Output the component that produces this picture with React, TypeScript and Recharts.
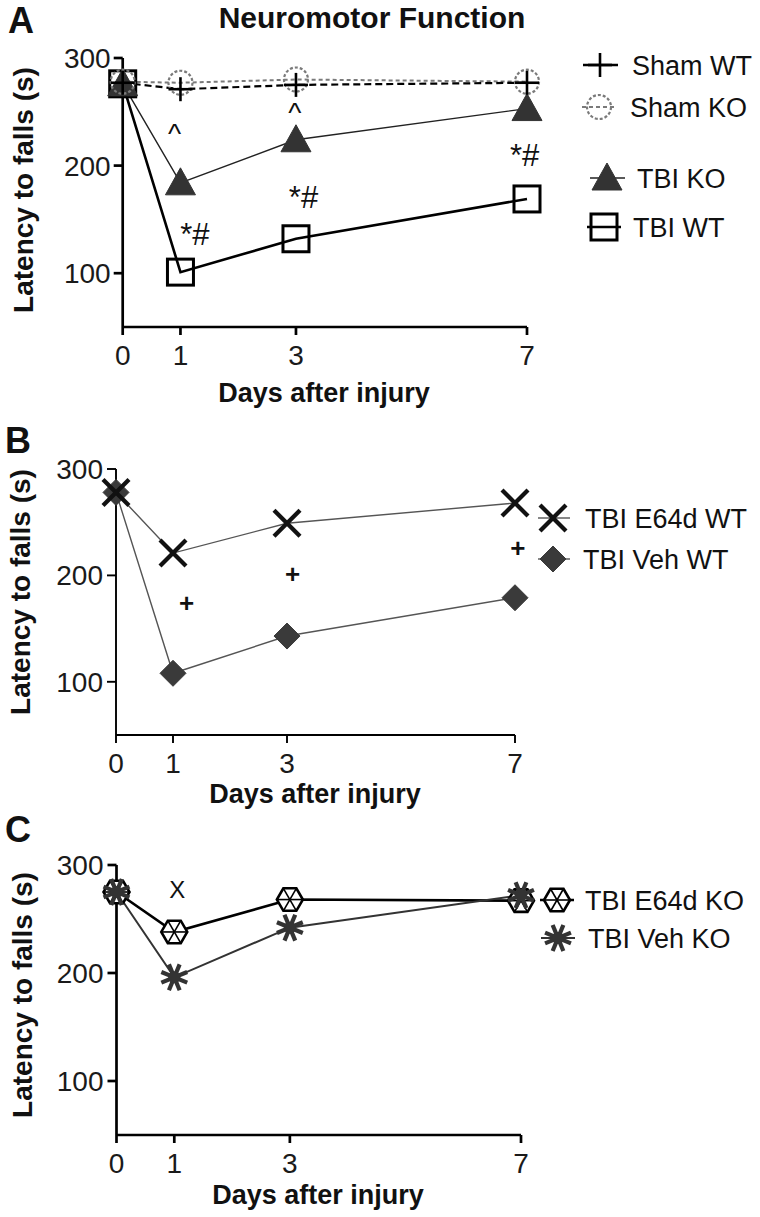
import React from 'react';
import { ComposedChart, Line, XAxis, YAxis, ReferenceDot } from 'recharts';

const FONT = '"Liberation Sans", Arial, Helvetica, sans-serif';

// shared axes
const days = [0, 1, 3, 7];
const dayTicks = [0, 1, 3, 7];
const latencyTicks = [100, 200, 300];
const latencyDomain = [50, 300];

// Panel A
const shamWT = [277, 271, 275, 277];
const shamKO = [278, 277, 280, 278];
const tbiKO = [276, 184, 224, 253];
const tbiWT = [276, 101, 132, 169];
const annotA = [
  { x: 0.9, y: 235, t: '^' },
  { x: 2.98, y: 255, t: '^' },
  { x: 1.25, y: 137, t: '*#' },
  { x: 3.13, y: 171, t: '*#' },
  { x: 6.96, y: 210, t: '*#' },
];

// Panel B
const e64dWT = [278, 221, 249, 268];
const vehWT = [278, 108, 143, 179];
const annotB = [
  { x: 1.24, y: 174, t: '+' },
  { x: 3.1, y: 202, t: '+' },
  { x: 7.05, y: 226, t: '+' },
];

// Panel C
const e64dKO = [275, 238, 268, 267];
const vehKO = [275, 196, 242, 272];
const annotC = [{ x: 1.05, y: 277, t: 'X' }];

const dataA = days.map((d, i) => ({ day: d, shamWT: shamWT[i], shamKO: shamKO[i], tbiKO: tbiKO[i], tbiWT: tbiWT[i] }));
const dataB = days.map((d, i) => ({ day: d, e64dWT: e64dWT[i], vehWT: vehWT[i] }));
const dataC = days.map((d, i) => ({ day: d, e64dKO: e64dKO[i], vehKO: vehKO[i] }));

// ---------- marker shapes ----------
const PlusM = ({ cx, cy, s = 12 }: any) => (
  <g stroke="#000" strokeWidth={2.6}>
    <line x1={cx - s} y1={cy} x2={cx + s} y2={cy} />
    <line x1={cx} y1={cy - s} x2={cx} y2={cy + s} />
  </g>
);
const CircleM = ({ cx, cy }: any) => (
  <circle cx={cx} cy={cy} r={12} fill="none" stroke="#7a7a7a" strokeWidth={2.2} strokeDasharray="3 2" />
);
const TriM = ({ cx, cy }: any) => (
  <polygon points={`${cx},${cy - 15} ${cx - 15},${cy + 12} ${cx + 15},${cy + 12}`} fill="#333" stroke="#333" strokeWidth={1} />
);
const SquareM = ({ cx, cy }: any) => (
  <rect x={cx - 13} y={cy - 13} width={26} height={26} fill="none" stroke="#000" strokeWidth={3} />
);
const XM = ({ cx, cy }: any) => (
  <g stroke="#111" strokeWidth={4.2}>
    <line x1={cx - 13} y1={cy - 13} x2={cx + 13} y2={cy + 13} />
    <line x1={cx - 13} y1={cy + 13} x2={cx + 13} y2={cy - 13} />
  </g>
);
const DiamondM = ({ cx, cy }: any) => (
  <polygon points={`${cx},${cy - 13} ${cx + 13},${cy} ${cx},${cy + 13} ${cx - 13},${cy}`} fill="#3a3a3a" stroke="#3a3a3a" strokeWidth={1} />
);
const HexM = ({ cx, cy }: any) => {
  const r = 13;
  const pts = [0, 1, 2, 3, 4, 5].map((i) => [cx + r * Math.cos((i * Math.PI) / 3), cy + r * Math.sin((i * Math.PI) / 3)]);
  return (
    <g>
      <polygon points={pts.map((p) => p.join(',')).join(' ')} fill="#fff" stroke="#000" strokeWidth={2.6} />
      {pts.map((p, i) => (
        <line key={i} x1={cx} y1={cy} x2={p[0]} y2={p[1]} stroke="#000" strokeWidth={1.6} />
      ))}
    </g>
  );
};
const StarM = ({ cx, cy }: any) => {
  const r = 14;
  return (
    <g stroke="#333" strokeWidth={4.2} strokeLinecap="butt">
      {[0, 1, 2, 3].map((i) => {
        const a = (i * Math.PI) / 4 + Math.PI / 8;
        return <line key={i} x1={cx - r * Math.cos(a)} y1={cy - r * Math.sin(a)} x2={cx + r * Math.cos(a)} y2={cy + r * Math.sin(a)} />;
      })}
      <circle cx={cx} cy={cy} r={6} fill="#333" stroke="none" />
    </g>
  );
};

const dotOf = (Comp: any, name: string) => (props: any) => {
  const { cx, cy, index } = props;
  if (cx == null || cy == null) return <g key={`${name}-${index}`} />;
  return <Comp key={`${name}-${index}`} cx={cx} cy={cy} />;
};

const annShape = (t: string, size: number, weight: string) => (props: any) => {
  const { cx, cy } = props;
  const dy = t === '^' ? '0.55em' : '0.36em';
  return (
    <text x={cx} y={cy} dy={dy} textAnchor="middle" fontFamily={FONT} fontSize={size} fontWeight={weight} fill="#111">
      {t}
    </text>
  );
};

const tickStyle = { fill: '#1a1a1a', fontSize: 28, fontFamily: FONT };

const axes = (sw: number, yMargin: number) => [
  <XAxis
    key="x"
    type="number"
    dataKey="day"
    domain={[0, 7]}
    ticks={dayTicks}
    height={30}
    axisLine={{ stroke: '#000', strokeWidth: sw }}
    tickLine={{ stroke: '#000', strokeWidth: sw }}
    tickSize={8}
    tickMargin={10}
    tick={tickStyle}
  />,
  <YAxis
    key="y"
    type="number"
    domain={latencyDomain}
    ticks={latencyTicks}
    width={60}
    axisLine={{ stroke: '#000', strokeWidth: sw }}
    tickLine={{ stroke: '#000', strokeWidth: sw }}
    tickSize={9}
    tickMargin={yMargin}
    tick={tickStyle}
  />,
];

const ChartA = () => (
  <ComposedChart width={760} height={420} data={dataA} margin={{ top: 58, right: 233, bottom: 63, left: 62.7 }}>
    {axes(2.7, 3)}
    <Line dataKey="tbiWT" stroke="#000" strokeWidth={2.6} isAnimationActive={false} dot={dotOf(SquareM, 'tw')} activeDot={false} />
    <Line dataKey="tbiKO" stroke="#222" strokeWidth={1.4} isAnimationActive={false} dot={dotOf(TriM, 'tk')} activeDot={false} />
    <Line dataKey="shamKO" stroke="#7a7a7a" strokeWidth={2} strokeDasharray="4 3" isAnimationActive={false} dot={dotOf(CircleM, 'sk')} activeDot={false} />
    <Line dataKey="shamWT" stroke="#000" strokeWidth={2.2} strokeDasharray="7 4" isAnimationActive={false} dot={dotOf(PlusM, 'sw')} activeDot={false} />
    {annotA.map((a, i) => (
      <ReferenceDot key={i} x={a.x} y={a.y} r={0} ifOverflow="visible" shape={annShape(a.t, a.t === '^' ? 28 : 31, 'normal')} />
    ))}
  </ComposedChart>
);

const ChartB = () => (
  <ComposedChart width={760} height={400} data={dataB} margin={{ top: 49, right: 245, bottom: 55, left: 56 }}>
    {axes(1.9, 4)}
    <Line dataKey="vehWT" stroke="#555" strokeWidth={1.4} isAnimationActive={false} dot={dotOf(DiamondM, 'vw')} activeDot={false} />
    <Line dataKey="e64dWT" stroke="#555" strokeWidth={1.4} isAnimationActive={false} dot={dotOf(XM, 'ew')} activeDot={false} />
    {annotB.map((a, i) => (
      <ReferenceDot key={i} x={a.x} y={a.y} r={0} ifOverflow="visible" shape={annShape(a.t, 26, 'bold')} />
    ))}
  </ComposedChart>
);

const ChartC = () => (
  <ComposedChart width={760} height={407} data={dataC} margin={{ top: 55, right: 239, bottom: 52, left: 56.5 }}>
    {axes(2.7, 4)}
    <Line dataKey="e64dKO" stroke="#000" strokeWidth={2.6} isAnimationActive={false} dot={dotOf(HexM, 'ek')} activeDot={false} />
    <Line dataKey="vehKO" stroke="#333" strokeWidth={2} isAnimationActive={false} dot={dotOf(StarM, 'vk')} activeDot={false} />
    {annotC.map((a, i) => (
      <ReferenceDot key={i} x={a.x} y={a.y} r={0} ifOverflow="visible" shape={annShape(a.t, 24, 'normal')} />
    ))}
  </ComposedChart>
);

const T = ({ x, y, size = 27, weight = 'normal', anchor = 'start', children, rotate }: any) => (
  <text
    x={x}
    y={y}
    fontFamily={FONT}
    fontSize={size}
    fontWeight={weight}
    textAnchor={anchor}
    fill="#111"
    transform={rotate ? `rotate(-90 ${x} ${y})` : undefined}
  >
    {children}
  </text>
);

const LegendRow = ({ y, tx, label, children }: any) => (
  <g>
    {children}
    <text x={tx} y={y} dy="0.36em" fontFamily={FONT} fontSize={27} fill="#111">
      {label}
    </text>
  </g>
);

const Overlay = () => (
  <svg width={760} height={1217} style={{ position: 'absolute', left: 0, top: 0, pointerEvents: 'none' }}>
    {/* panel letters */}
    <T x={8} y={33} size={36} weight="bold">A</T>
    <T x={5} y={453} size={36} weight="bold">B</T>
    <T x={5} y={842} size={36} weight="bold">C</T>
    <T x={372} y={28} size={30} weight="bold" anchor="middle">Neuromotor Function</T>

    {/* axis titles */}
    <T x={33} y={190} size={28} weight="bold" anchor="middle" rotate>Latency to falls (s)</T>
    <T x={30} y={592} size={28} weight="bold" anchor="middle" rotate>Latency to falls (s)</T>
    <T x={32} y={995} size={28} weight="bold" anchor="middle" rotate>Latency to falls (s)</T>
    <T x={324} y={402} size={27} weight="bold" anchor="middle">Days after injury</T>
    <T x={315} y={803} size={27} weight="bold" anchor="middle">Days after injury</T>
    <T x={318} y={1204} size={27} weight="bold" anchor="middle">Days after injury</T>

    {/* legend A */}
    <LegendRow y={65} tx={632} label="Sham WT">
      <PlusM cx={600} cy={65} />
      <line x1={583} y1={65} x2={618} y2={65} stroke="#000" strokeWidth={2.6} />
    </LegendRow>
    <LegendRow y={107} tx={630} label="Sham KO">
      <line x1={582} y1={107} x2={616} y2={107} stroke="#7a7a7a" strokeWidth={2} strokeDasharray="4 3" />
      <CircleM cx={599} cy={107} />
    </LegendRow>
    <LegendRow y={178} tx={637} label="TBI KO">
      <line x1={590} y1={178} x2={625} y2={178} stroke="#222" strokeWidth={1.4} />
      <TriM cx={607} cy={178} />
    </LegendRow>
    <LegendRow y={227} tx={633} label="TBI WT">
      <line x1={587} y1={227} x2={621} y2={227} stroke="#000" strokeWidth={2.6} />
      <SquareM cx={604} cy={227} />
    </LegendRow>

    {/* legend B */}
    <LegendRow y={518} tx={585} label="TBI E64d WT">
      <line x1={538} y1={518} x2={570} y2={518} stroke="#555" strokeWidth={1.4} />
      <XM cx={553} cy={518} />
    </LegendRow>
    <LegendRow y={559} tx={583} label="TBI Veh WT">
      <line x1={538} y1={559} x2={570} y2={559} stroke="#555" strokeWidth={1.4} />
      <DiamondM cx={553} cy={559} />
    </LegendRow>

    {/* legend C */}
    <LegendRow y={900} tx={585} label="TBI E64d KO">
      <line x1={540} y1={900} x2={574} y2={900} stroke="#000" strokeWidth={2.6} />
      <HexM cx={557} cy={900} />
    </LegendRow>
    <LegendRow y={938} tx={588} label="TBI Veh KO">
      <line x1={541} y1={938} x2={575} y2={938} stroke="#333" strokeWidth={2} />
      <StarM cx={558} cy={938} />
    </LegendRow>
  </svg>
);

export default function App() {
  return (
    <div style={{ position: 'absolute', left: 0, top: 0, width: 760, height: 1217, background: '#fff', overflow: 'hidden' }}>
      <div style={{ position: 'absolute', left: 0, top: 0 }}>
        <ChartA />
      </div>
      <div style={{ position: 'absolute', left: 0, top: 420 }}>
        <ChartB />
      </div>
      <div style={{ position: 'absolute', left: 0, top: 810 }}>
        <ChartC />
      </div>
      <Overlay />
    </div>
  );
}
